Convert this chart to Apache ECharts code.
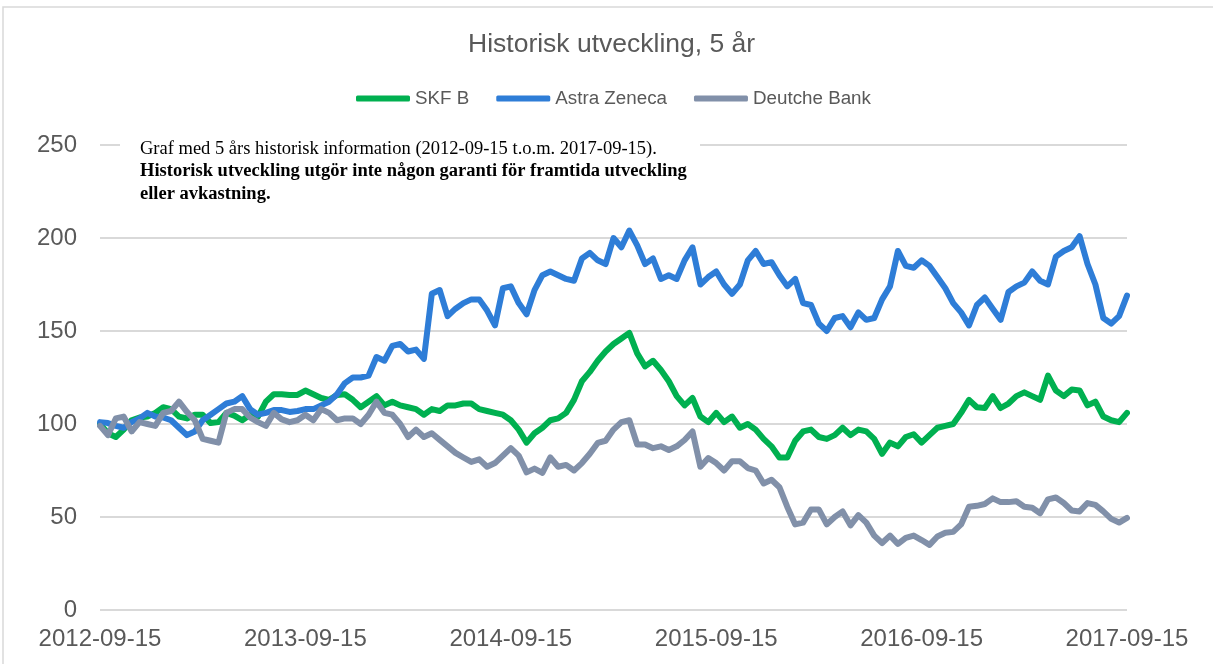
<!DOCTYPE html>
<html>
<head>
<meta charset="utf-8">
<script src="https://cdn.jsdelivr.net/npm/echarts@6/dist/echarts.min.js"></script>
<style>
html,body{margin:0;padding:0;background:#fff;}
#chart{width:1213px;height:664px;}
</style>
</head>
<body>
<div id="chart"></div>
<script>
// Two-week sampling steps; 26 steps per year, starting 2012-09-15
const startYear = 2012;
const stepsPerYear = 26;
const seriesNames = ['SKF B', 'Astra Zeneca', 'Deutche Bank'];
const yTicks = [0, 50, 100, 150, 200, 250];

const skfB = [
100,95,93,97,102,103.5,104,106,109,108,
104,103,105,105,100.5,101,106,104.5,102,105,
104,112,116,116,115.6,115.6,118,116,114,113,
115.6,116,113,109,112,115,110,112,110,109,
108,105,108,107,110,110,111,111,108,107,
106,105,102,97,90,95,98,102,103,106,
113,123,128,134,139,143,146,149,138,131,
134,129,123,115,110,114,104,101,106,101,
104,98,100,97,92,88,82,82,91,96,
97,93,92,94,98,94,97,96,92,84,
90,88,93,94.5,90,94,98,99,100,106,
113,109,108.6,115,108.6,111,115,117,115,113,
126,118,115,118.5,118,110,112,104,102,101,
106];

const astraZeneca = [
101,100.5,99,98,101,103,106,104,103.5,102,
98,94,96,102,105,108,111,112,115,108,
105,106,107.5,107.5,106.5,107,108,108,110,112,
116,122,125,125,126,136,134,142,143,139,
140,135,170,172,158,162,165,167,167,161,
153,173,174,165,159,172,180,182,180,178,
177,189,192,188,186,200,195,204,196,186,
189,178,180,178,188,195,175,179,182,175,
170,175,188,193,186,187,180,174,178,165,
164,154,150,157,158,152,160,156,157,167,
174,193,185,184,188,185,179,173,165,160,
153,164,168,162,156,171,174,176,182,177,
175,190,193,195,201,186,175,157,154,158,
169];

const deutcheBank = [
99,94,103,104,96,101,100,99,106,107,
112,106.5,102,92,91,90,106,108,108,103.5,
101,99,106,102.5,101,102,105,102,108,106,
102,103,103,100,105,112,106,105,100,93,
97,93,95,91.5,88,84.5,82,79.6,81,77,
79,83,87,83,74,76,73.7,82,77,78,
75,79,84,89.8,91,97,101,102,89,89,
87,88,86,88,91.4,96,77,81.7,79,75,
80,80,76.3,75,68,70,66,55.4,46,47,
54,54,46,50,53,45.5,51,47,40,36,
40,35.5,38.8,40,37.6,35,39.5,41.5,42,46,
55.5,56,57,60,58,58,58.5,55.5,55,52,
59.5,60.5,57.5,53.5,53,57.5,56.5,53,49,47,
49.5];

const noteLine1 = 'Graf med 5 års historisk information (2012-09-15 t.o.m. 2017-09-15).';
const noteLine2 = 'Historisk utveckling utgör inte någon garanti för framtida utveckling';
const noteLine3 = 'eller avkastning.';

const colors = ['#00B050', '#2E7DD7', '#8190A9'];
const sans = '"Liberation Sans", Arial, sans-serif';
const serif = '"Liberation Serif", "Times New Roman", serif';

function toPairs(arr) { return arr.map((v, i) => [i, v]); }

const chart = echarts.init(document.getElementById('chart'));
const allSeries = [skfB, astraZeneca, deutcheBank];
const option = {
  animation: false,
  backgroundColor: '#ffffff',
  title: {
    text: 'Historisk utveckling, 5 år',
    left: 463,
    top: 26,
    textStyle: { fontFamily: sans, fontSize: 26.5, fontWeight: 'normal', color: '#595959' }
  },
  legend: {
    top: 84,
    left: 351,
    itemWidth: 54,
    itemHeight: 6,
    itemGap: 27,
    textStyle: { fontFamily: sans, fontSize: 18.8, color: '#595959' },
    data: seriesNames.map(n => ({ name: n, icon: 'roundRect' }))
  },
  grid: { left: 100, right: 86, top: 145, bottom: 54, containLabel: false },
  xAxis: {
    type: 'value',
    min: 0,
    max: stepsPerYear * 5,
    interval: stepsPerYear,
    axisLine: { show: false },
    axisTick: { show: false },
    splitLine: { show: false },
    axisLabel: {
      fontFamily: sans, fontSize: 24, color: '#595959', margin: 17,
      formatter: v => (startYear + Math.round(v / stepsPerYear)) + '-09-15'
    }
  },
  yAxis: {
    type: 'value',
    min: yTicks[0],
    max: yTicks[yTicks.length - 1],
    interval: 50,
    axisLine: { show: false },
    axisTick: { show: false },
    splitLine: { lineStyle: { color: '#d9d9d9', width: 2 } },
    axisLabel: { fontFamily: sans, fontSize: 24, color: '#595959', margin: 23 }
  },
  graphic: [
    { type: 'rect', shape: { x: 3, y: 7, width: 1215, height: 700 }, style: { fill: 'none', stroke: '#d9d9d9', lineWidth: 1.5 }, silent: true, z: -1 },
    { type: 'rect', shape: { x: 120, y: 132, width: 580, height: 74 }, style: { fill: '#ffffff' }, silent: true, z: 100 },
    { type: 'text', left: 140, top: 140, z: 101, style: { text: noteLine1, font: '18.5px ' + serif, fill: '#000' } },
    { type: 'text', left: 140, top: 162, z: 101, style: { text: noteLine2, font: 'bold 18.5px ' + serif, fill: '#000' } },
    { type: 'text', left: 140, top: 185, z: 101, style: { text: noteLine3, font: 'bold 18.5px ' + serif, fill: '#000' } }
  ],
  series: seriesNames.map((name, k) => ({
    name: name,
    type: 'line',
    data: toPairs(allSeries[k]),
    showSymbol: false,
    symbol: 'none',
    color: colors[k],
    lineStyle: { width: 6, color: colors[k], cap: 'round', join: 'round' },
    z: 2 + k
  }))
};
chart.setOption(option);
</script>
</body>
</html>
